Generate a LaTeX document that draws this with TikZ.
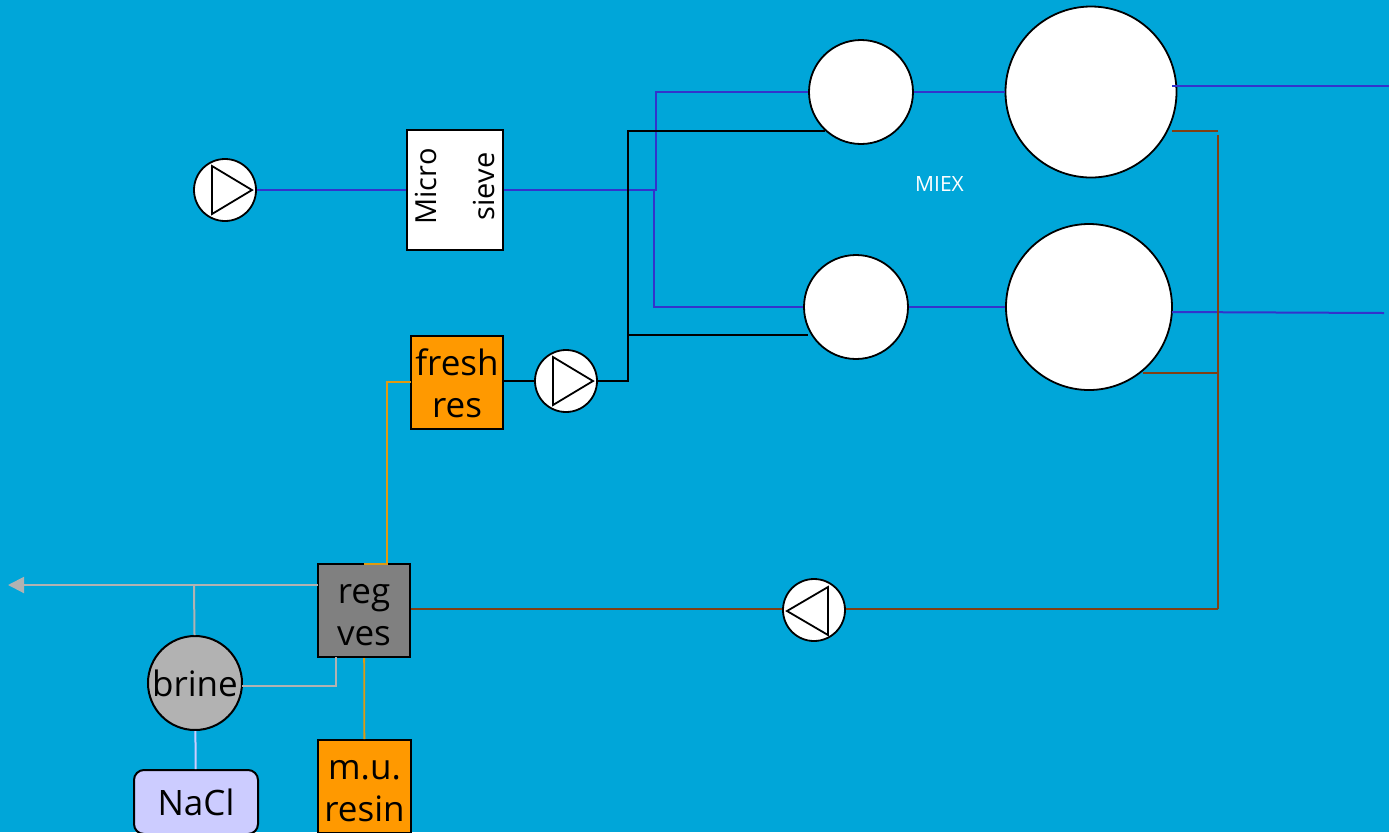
\documentclass[tikz,border=0pt]{standalone}
\usepackage{fontspec}
\setmainfont{Open Sans}
\usetikzlibrary{arrows.meta, positioning}
\definecolor{bgblue}{RGB}{0,166,217}
\definecolor{waterblue}{RGB}{51,51,204}
\definecolor{brownline}{RGB}{128,64,20}
\definecolor{resinorange}{RGB}{255,153,0}
\definecolor{orangeline}{RGB}{224,154,16}
\definecolor{greyline}{RGB}{178,178,178}
\definecolor{naclfill}{RGB}{204,204,255}
\newcommand{\firstline}{\rule{0pt}{14.5pt}}

\begin{document}
\begin{tikzpicture}[x=0.5pt, y=-0.5pt, >=Triangle, font=\fontsize{17.5}{21}\selectfont,
  box/.style={draw, line width=1pt, align=center, inner sep=0pt, minimum width=46pt, minimum height=46.5pt},
  tank/.style={draw, circle, fill=white, line width=0.9pt, inner sep=0pt},
  pump/.style={tank, minimum size=31pt},
  water/.style={waterblue, line width=1pt},
  slurry/.style={black, line width=1pt},
  used/.style={brownline, line width=1pt},
  resin/.style={orangeline, line width=0.9pt},
  waste/.style={greyline, line width=1pt}]
\useasboundingbox (0,0) rectangle (1389,832);
\fill[bgblue] (0,0) rectangle (1389,832);

\coordinate (waterin) at (655,190);
\coordinate (waterup) at (656,92);
\coordinate (waterdown) at (654,307);
\coordinate (outa) at (1389,86);
\coordinate (outb) at (1384,313);
\coordinate (outastart) at (1172,86);
\coordinate (outbstart) at (1172,312);
\coordinate (slurrytop) at (628,131);
\coordinate (slurrymid) at (628,335);
\coordinate (slurrybot) at (628,381);
\coordinate (slurryaend) at (825,131);
\coordinate (slurrybend) at (808,335);
\coordinate (usedastart) at (1172,131);
\coordinate (usedacorner) at (1218,131);
\coordinate (usedtop) at (1218,135);
\coordinate (usedmid) at (1218,373);
\coordinate (usedbot) at (1218,608.5);
\coordinate (usedbstart) at (1143,373);
\coordinate (freshout) at (411,382);
\coordinate (freshcorner) at (387,382);
\coordinate (regtop) at (387,564);
\coordinate (regtopb) at (364,564);
\coordinate (brineout) at (242,686);
\coordinate (brinecorner) at (336,686);
\coordinate (regbot) at (336,657);
\coordinate (wasteend) at (8,585);
\coordinate (wastetee) at (194,585);
\coordinate (wastestart) at (318,585);

% process units
\node[pump] (pumpa) at (225,190) {};
\node[box, fill=white, rotate=90, minimum width=60pt, minimum height=48pt, font=\fontsize{14.5}{17}\selectfont] (sieve) at (454.5,190) {\hspace*{3.5pt}Micro\\[12pt]\hspace*{3.5pt}sieve};
\node[tank, minimum size=52pt] (contacta) at (861,92) {};
\node[tank, minimum size=85.5pt] (settlera) at (1091,92) {};
\node[tank, minimum size=52pt] (contactb) at (856,307) {};
\node[tank, minimum size=83pt] (settlerb) at (1089,307) {};
\node[box, fill=resinorange] (fresh) at (457,382.5) {\firstline fresh\\res};
\node[pump] (pumpb) at (566,381) {};
\node[pump] (pumpc) at (814,610) {};
\node[box, fill=gray] (reg) at (364,610.5) {\firstline reg\\ves};
\node[draw, circle, fill=greyline, line width=1pt, inner sep=0pt, minimum size=47pt] (brine) at (195,683) {brine};
\node[box, fill=resinorange, minimum width=46.5pt] (makeup) at (364.5,786.5) {\firstline m.u.\\resin};
\node[draw, rounded corners=5pt, fill=naclfill, line width=1pt, minimum width=62pt, minimum height=32pt, inner sep=0pt] (nacl) at (196,802) {NaCl};
\node[white, font=\fontsize{10.5}{12}\selectfont] (miex) at (939.5,184) {MIEX};

\foreach \p in {pumpa,pumpb}
  \draw[line width=0.9pt] ([shift={(-13,-24)}]\p.center) -- ++(0,48) -- ++(40,-24) -- cycle;
\draw[line width=0.9pt] ([shift={(14,-23)}]pumpc.center) -- ++(0,48) -- ++(-41,-24) -- cycle;

% water
\draw[water] (pumpa.east) -- (sieve);
\draw[water] (sieve) -- (waterin);
\draw[water] (waterin) -| (waterup) -- (contacta.west);
\draw[water] (waterin) -| (waterdown) -- (contactb.west);
\draw[water] (contacta) -- (settlera);
\draw[water] (contactb) -- (settlerb);
\draw[water] (outastart) -- (outa);
\draw[water] (outbstart) -- (outb);

% resin to contactors
\draw[slurry] (fresh.east |- pumpb) -- (pumpb);
\draw[slurry] (pumpb) -- (slurrybot) -- (slurrytop) -- (slurryaend);
\draw[slurry] (slurrymid) -- (slurrybend);

% used resin
\draw[used] (usedastart) -- (usedacorner);
\draw[used] (usedtop) -- (usedbot);
\draw[used] (usedbstart) -- (usedmid);
\draw[used] (usedbot) -- (pumpc.east |- usedbot);
\draw[used] (pumpc.west |- usedbot) -- (reg.east |- usedbot);

% regeneration
\draw[resin] (freshout) -- (freshcorner) -- (regtop) -- (regtopb);
\draw[resin] (reg) -- (makeup);
\draw[waste, -{Triangle[length=8pt,width=8pt]}] (wastestart) -- (wasteend);
\draw[waste] (wastetee) -- (brine);
\draw[waste] (brineout) -- (brinecorner) -- (regbot);
\draw[naclfill, line width=1pt] (brine) -- (nacl);
\end{tikzpicture}
\end{document}
